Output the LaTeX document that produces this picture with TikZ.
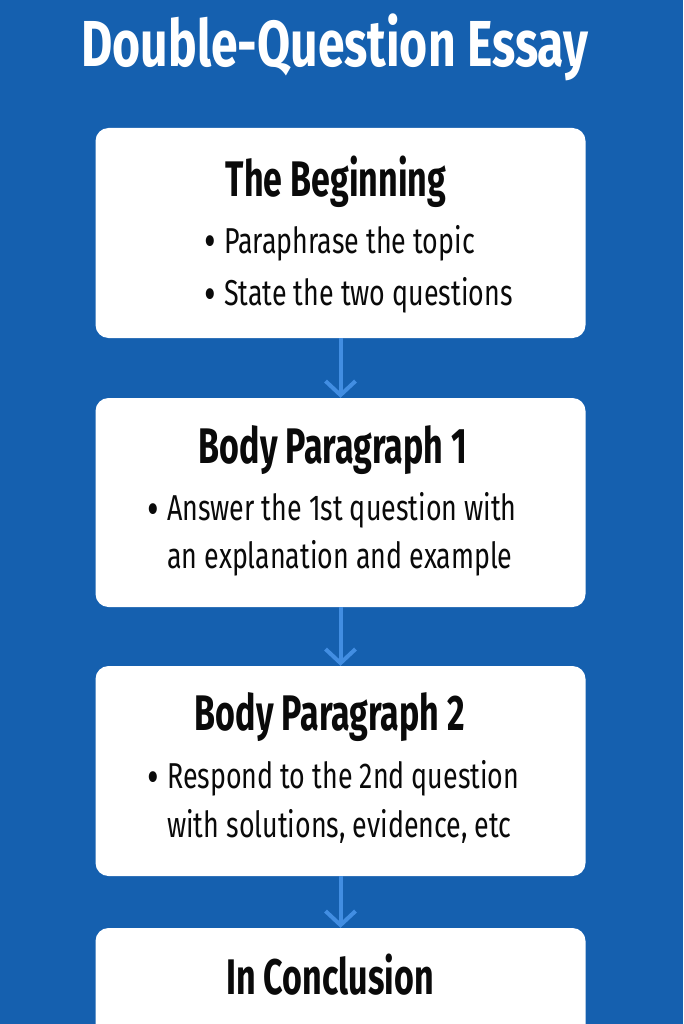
\documentclass[tikz,border=0pt]{standalone}
\usepackage{fontspec}
\setmainfont{Fira Sans}
\newfontfamily\regf[FakeStretch=0.745]{Fira Sans}
\newfontfamily\headf[FakeStretch=0.68]{Fira Sans}
\newfontfamily\ttlf[FakeStretch=0.74]{Fira Sans}
\usetikzlibrary{arrows.meta}
\definecolor{bgblue}{RGB}{21,96,175}
\definecolor{arrblue}{RGB}{66,142,226}
\definecolor{ink}{RGB}{10,10,10}
\newcommand{\blt}{\makebox[20pt][l]{\raisebox{-5pt}{\fontsize{48}{48}\selectfont •}}}
\begin{document}
\begin{tikzpicture}[x=1pt,y=-1pt,
  box/.style={draw=none,fill=white,rounded corners=13pt,minimum width=490pt,inner sep=0pt},
  head/.style={anchor=base,inner sep=0pt,text=ink,font=\headf\bfseries\fontsize{50}{50}\selectfont},
  line/.style={anchor=base west,inner sep=0pt,text=ink,font=\regf\fontsize{36}{36}\selectfont},
  arr/.style={draw=arrblue,line width=4pt,-{Straight Barb[length=14pt,width=30pt,line width=4pt]}}]
\useasboundingbox (0,0) rectangle (683,1024);
\fill[bgblue] (0,0) rectangle (683,1024);
\clip (0,0) rectangle (683,1024);
\node[anchor=base,inner sep=0pt,text=white,font=\ttlf\bfseries\fontsize{65}{65}\selectfont] (title) at (335,67) {Double-Question Essay};
\node[box,minimum height=210pt] (b1) at (340.5,233) {};
\node[box,minimum height=209pt] (b2) at (340.5,502.5) {};
\node[box,minimum height=210pt] (b3) at (340.5,771) {};
\node[box,minimum height=212pt] (b4) at (340.5,1034) {};
\draw[arr] (b1.south) -- (b2.north);
\draw[arr] (b2.south) -- (b3.north);
\draw[arr] (b3.south) -- (b4.north);
\node[head] (h1) at (336,197) {The Beginning};
\node[line] (l1a) at (204,253) {\blt Paraphrase the topic};
\node[line] (l1b) at (204,305) {\blt State the two questions};
\node[head] (h2) at (333,463) {Body Paragraph 1};
\node[line] (l2a) at (147,520) {\blt Answer the 1st question with};
\node[line] (l2b) at (167,568) {an explanation and example};
\node[head] (h3) at (330,730) {Body Paragraph 2};
\node[line] (l3a) at (147,788) {\blt Respond to the 2nd question};
\node[line] (l3b) at (167,837) {with solutions, evidence, etc};
\node[head] (h4) at (330,994) {In Conclusion};
\end{tikzpicture}
\end{document}
